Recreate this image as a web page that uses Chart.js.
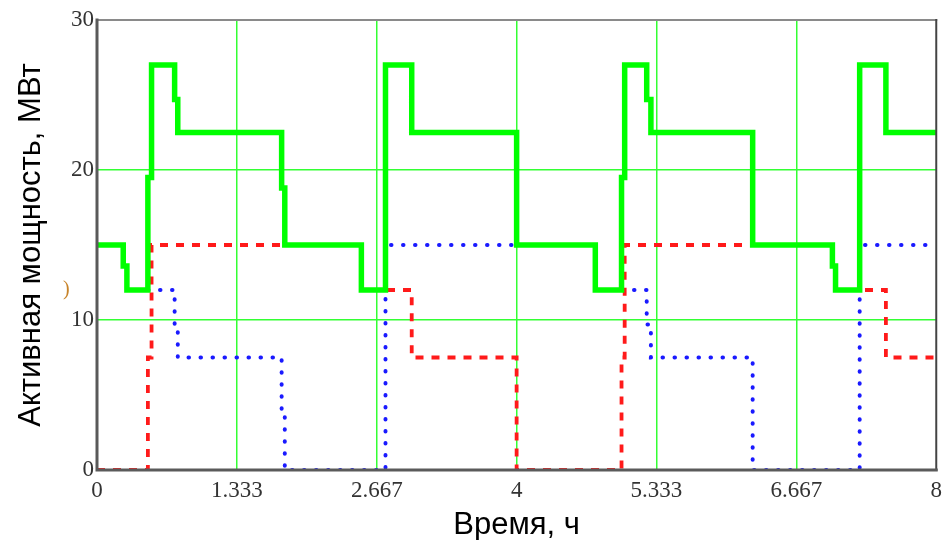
<!DOCTYPE html>
<html>
<head>
<meta charset="utf-8">
<script src="https://cdn.jsdelivr.net/npm/chart.js@4.4.0/dist/chart.umd.min.js"></script>
<style>
  html, body { margin: 0; padding: 0; background: #fff; }
  #wrap { width: 949px; height: 540px; }
</style>
</head>
<body>
<div id="wrap"><canvas id="powerChart" width="949" height="540"></canvas></div>
<script>
// Break points of the step curves, hours
const times = [0, 0.25, 0.285, 0.485, 0.52, 0.74, 0.77, 1.76, 1.79, 2.52, 2.75, 3.0, 4.0,
               4.75, 5.0, 5.03, 5.24, 5.28, 6.25, 7.01, 7.04, 7.27, 7.52, 8.0];

// Total active power, MW
const totalPower = [15, 13.6, 12, 19.5, 27, 24.7, 22.5, 18.8, 15, 12, 27, 22.5, 15,
                    12, 19.5, 27, 24.7, 22.5, 15, 13.6, 12, 27, 22.5, 22.5];

// Unit 1 (red dashed), MW
const unit1Power = [0, 0, 0, 7.5, 15, 15, 15, 15, 15, 12, 12, 7.5, 0,
                    0, 7.5, 15, 15, 15, 15, 13.6, 12, 12, 7.5, 7.5];

// Unit 2 (blue dotted), MW
const unit2Power = [15, 13.6, 12, 12, 12, 9.7, 7.5, 3.8, 0, 0, 15, 15, 15,
                    12, 12, 12, 9.7, 7.5, 0, 0, 0, 15, 15, 15];

const xTickValues = [0, 1.333, 2.667, 4, 5.333, 6.667, 8];
const xTickLabels = ['0', '1.333', '2.667', '4', '5.333', '6.667', '8'];
const yTickValues = [0, 10, 20, 30];

const toPoints = values => times.map((t, i) => ({ x: t, y: values[i] }));

const GRID_GREEN = '#33ff33';
const TICK_COLOR = '#333';

// Plot frame drawn over the curves, like the original
const framePlugin = {
    id: 'frame',
    afterDatasetsDraw(chart) {
        const { ctx, chartArea: a } = chart;
        ctx.save();
        ctx.lineCap = 'square';
        ctx.strokeStyle = '#8a8a8a';
        ctx.lineWidth = 2;
        ctx.beginPath();
        ctx.moveTo(a.left, a.top);
        ctx.lineTo(a.right, a.top);
        ctx.stroke();
        ctx.strokeStyle = '#444';
        ctx.beginPath();
        ctx.moveTo(a.right, a.top);
        ctx.lineTo(a.right, a.bottom);
        ctx.stroke();
        ctx.strokeStyle = '#5a5a5a';
        ctx.lineWidth = 3;
        ctx.beginPath();
        ctx.moveTo(a.left, a.top);
        ctx.lineTo(a.left, a.bottom);
        ctx.lineTo(a.right, a.bottom);
        ctx.stroke();
        // stray fragment of a label left of the axis
        ctx.fillStyle = '#c8842a';
        ctx.font = '20px "Liberation Serif"';
        ctx.textBaseline = 'middle';
        ctx.fillText(')', 63, 290);
        ctx.restore();
    }
};

const edgeHidden = (lo, hi) => ctx =>
    (ctx.tick && (ctx.tick.value === lo || ctx.tick.value === hi)) ? 'rgba(0,0,0,0)' : GRID_GREEN;

new Chart(document.getElementById('powerChart'), {
    type: 'line',
    data: {
        datasets: [
            {
                label: 'Суммарная',
                data: toPoints(totalPower),
                borderColor: '#00ff00',
                borderWidth: 5.5,
                stepped: 'before',
                pointRadius: 0,
                borderJoinStyle: 'miter'
            },
            {
                label: 'Генератор 1',
                data: toPoints(unit1Power),
                borderColor: '#ff1a1a',
                borderWidth: 3.8,
                borderDash: [8, 8],
                stepped: 'before',
                pointRadius: 0
            },
            {
                label: 'Генератор 2',
                data: toPoints(unit2Power),
                borderColor: '#1a1aff',
                borderWidth: 4,
                borderDash: [0.5, 11.5],
                borderCapStyle: 'round',
                stepped: 'before',
                pointRadius: 0
            }
        ]
    },
    options: {
        responsive: false,
        animation: false,
        layout: { padding: { top: 20, right: 9, left: 0, bottom: 0 } },
        plugins: {
            legend: { display: false },
            tooltip: { enabled: false }
        },
        scales: {
            x: {
                type: 'linear',
                min: 0,
                max: 8,
                afterBuildTicks: scale => { scale.ticks = xTickValues.map(v => ({ value: v })); },
                afterFit: scale => { scale.height = 70; },
                ticks: {
                    autoSkip: false,
                    maxRotation: 0,
                    padding: 7,
                    color: TICK_COLOR,
                    font: { family: '"Liberation Serif"', size: 23 },
                    callback: value => xTickLabels[xTickValues.indexOf(value)]
                },
                grid: { color: edgeHidden(0, 8), lineWidth: 1.5, drawTicks: false },
                border: { display: false },
                title: {
                    display: true,
                    text: 'Время, ч',
                    color: '#000',
                    font: { family: '"Liberation Sans"', size: 31 },
                    padding: { top: 0, bottom: -4 }
                }
            },
            y: {
                min: 0,
                max: 30,
                afterBuildTicks: scale => { scale.ticks = yTickValues.map(v => ({ value: v })); },
                afterFit: scale => { scale.width = 97; },
                ticks: {
                    padding: 3,
                    color: TICK_COLOR,
                    font: { family: '"Liberation Serif"', size: 23 }
                },
                grid: { color: edgeHidden(0, 30), lineWidth: 1.5, drawTicks: false },
                border: { display: false },
                title: {
                    display: true,
                    text: 'Активная мощность, МВт',
                    color: '#000',
                    font: { family: '"Liberation Sans"', size: 31 },
                    padding: { top: 13, bottom: 0 }
                }
            }
        }
    },
    plugins: [framePlugin]
});
</script>
</body>
</html>
